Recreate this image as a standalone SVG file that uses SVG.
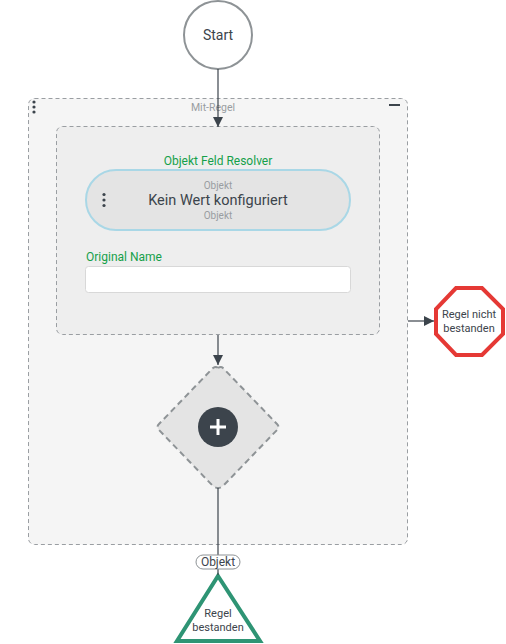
<svg xmlns="http://www.w3.org/2000/svg" width="506" height="644" viewBox="0 0 506 644">
<style>
text{font-family:Roboto,"Liberation Sans",sans-serif}
.conn{stroke:#3c444c;stroke-width:1.2;fill:none}
.dash{stroke:#9a9ea2;stroke-width:1;stroke-dasharray:4 3}
.green{fill:#15a04a;font-size:12px}
.gray{fill:#999da1}
.dot{fill:#3c444c}
</style>
<defs>
<marker id="arr" viewBox="0 0 10 10" refX="10" refY="5" markerWidth="10" markerHeight="10" markerUnits="userSpaceOnUse" orient="auto">
<path d="M0,0 L10,5 L0,10 z" fill="#3c444c"/>
</marker>
</defs>
<g id="group-mit-regel">
<rect x="28.5" y="98.5" width="379" height="446" rx="6" fill="#f5f5f5" class="dash"/>
<text x="213" y="111" text-anchor="middle" font-size="10.5" class="gray">Mit-Regel</text>
<circle cx="34" cy="102" r="1.6" class="dot"/><circle cx="34" cy="107" r="1.6" class="dot"/><circle cx="34" cy="112" r="1.6" class="dot"/>
<rect x="389" y="104" width="11" height="2" fill="#3c444c"/>
</g>
<g id="resolver">
<rect x="56.5" y="126.5" width="323" height="208" rx="6" fill="#eeeeee" class="dash"/>
<text x="218" y="165" text-anchor="middle" class="green">Objekt Feld Resolver</text>
<rect x="86" y="170" width="264" height="60" rx="30" fill="#e4e4e4" stroke="#a9d7e6" stroke-width="2"/>
<text x="218" y="189" text-anchor="middle" font-size="10" class="gray">Objekt</text>
<text x="218" y="205" text-anchor="middle" font-size="14.5" fill="#3c444c">Kein Wert konfiguriert</text>
<text x="218" y="219" text-anchor="middle" font-size="10" class="gray">Objekt</text>
<circle cx="104" cy="194.5" r="1.6" class="dot"/><circle cx="104" cy="200" r="1.6" class="dot"/><circle cx="104" cy="205.5" r="1.6" class="dot"/>
<text x="86" y="261" class="green">Original Name</text>
<rect x="85.5" y="266.5" width="265" height="26" rx="3" fill="#ffffff" stroke="#d8d8d8"/>
</g>
<g id="start">
<circle cx="218" cy="35" r="34" fill="#ffffff" stroke="#8e9396" stroke-width="2"/>
<text x="218" y="40" text-anchor="middle" font-size="14" fill="#3c444c">Start</text>
</g>
<g id="add">
<path d="M218,368 Q221,366 223,368 L277,424 Q280,427 277,430 L223,486 Q218,490 213,486 L159,430 Q156,427 159,424 L213,368 Q216,366 218,368 z" fill="#e4e4e4" stroke="#8e9396" stroke-width="2" stroke-dasharray="6 4"/>
<circle cx="218" cy="427" r="20" fill="#3c444c"/>
<path d="M218,419 V435 M210,427 H226" stroke="#ffffff" stroke-width="3"/>
</g>
<g id="fail">
<polygon points="456,288 482,288 503,309 503,334 482,355 456,355 436,334 436,309" fill="#ffffff" stroke="#e53935" stroke-width="4"/>
<text x="469" y="318" text-anchor="middle" font-size="11" fill="#3c444c">Regel nicht</text>
<text x="469" y="332" text-anchor="middle" font-size="11" fill="#3c444c">bestanden</text>
</g>
<g id="pass">
<polygon points="218,576 260,641 177,641" fill="#ffffff" stroke="#2e9474" stroke-width="4" stroke-linejoin="miter"/>
<text x="218" y="617" text-anchor="middle" font-size="11" fill="#3c444c">Regel</text>
<text x="218" y="631" text-anchor="middle" font-size="11" fill="#3c444c">bestanden</text>
</g>
<g id="connectors">
<line x1="218" y1="69" x2="218" y2="127" class="conn" marker-end="url(#arr)"/>
<line x1="218" y1="335" x2="218" y2="365" class="conn" marker-end="url(#arr)"/>
<line x1="408" y1="321" x2="434" y2="321" class="conn" marker-end="url(#arr)"/>
<line x1="218" y1="488" x2="218" y2="575" class="conn"/>
<rect x="196" y="555" width="44" height="14" rx="7" fill="#ffffff" stroke="#8e9396"/>
<text x="218" y="566" text-anchor="middle" font-size="12" fill="#3c444c">Objekt</text>
</g>
</svg>
